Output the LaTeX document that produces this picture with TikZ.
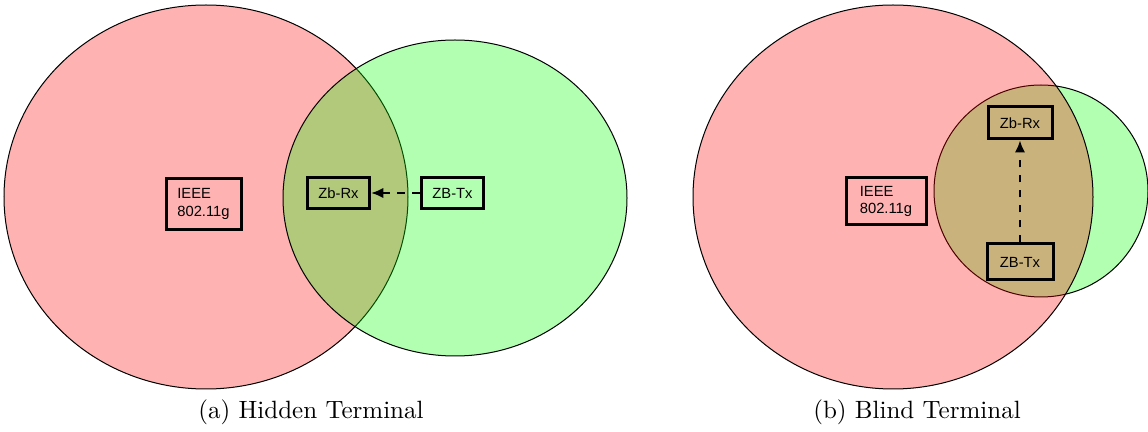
\documentclass[tikz,border=0pt]{standalone}
\usepackage{fontspec}
\newfontfamily\boxfont{Liberation Sans}
\usetikzlibrary{arrows.meta}
\definecolor{rfill}{RGB}{255,0,0}
\definecolor{gfill}{RGB}{0,255,0}
\tikzset{
  redarea/.style={draw=black, line width=0.4pt, fill=rfill, fill opacity=0.3},
  greenarea/.style={draw=black, line width=0.4pt, fill=gfill, fill opacity=0.3},
  devbox/.style={draw=black, line width=1.2pt, rectangle, inner sep=0pt,
    font=\boxfont\fontsize{5.9}{7}\selectfont, align=left},
  link/.style={dashed, line width=0.8pt, -{Latex[length=4.8pt,width=4.2pt]}},
  caption/.style={font=\fontsize{10}{12}\selectfont, inner sep=0pt}
}
\begin{document}
\begin{tikzpicture}[x=0.4pt, y=-0.4pt]
\useasboundingbox (0,0) rectangle (1148,432);
% (a) Hidden Terminal
\fill[white] (0,0) rectangle (1148,432);
\draw[redarea] (206,197) ellipse [x radius=202, y radius=192];
\draw[greenarea] (455,198) ellipse [x radius=172, y radius=158];
\node[devbox, minimum width=30pt, minimum height=20.4pt] (ieeeA) at (203.5,204) {IEEE\\802.11g};
\node[devbox, minimum width=25pt, minimum height=12.6pt] (rxA) at (338.5,193) {Zb-Rx};
\node[devbox, minimum width=25pt, minimum height=12.6pt] (txA) at (452.5,193) {ZB-Tx};
\draw[link] (txA.west) -- (rxA.east);
\node[caption] (capA) at (311,412) {(a) Hidden Terminal};
% (b) Blind Terminal
\draw[greenarea] (1041,191) ellipse [x radius=107, y radius=106];
\draw[redarea] (893,197) ellipse [x radius=200, y radius=192];
\node[devbox, minimum width=32pt, minimum height=18.8pt] (ieeeB) at (886,201.5) {IEEE\\802.11g};
\node[devbox, minimum width=25.6pt, minimum height=12.8pt] (rxB) at (1020,123) {Zb-Rx};
\node[devbox, minimum width=26.4pt, minimum height=14.4pt] (txB) at (1020,262) {ZB-Tx};
\draw[link] (txB.north) -- (rxB.south);
\node[caption] (capB) at (917,412) {(b) Blind Terminal};
\end{tikzpicture}
\end{document}
